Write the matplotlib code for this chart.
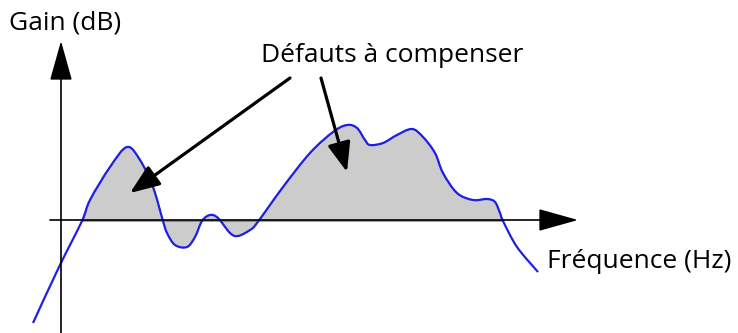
import matplotlib
matplotlib.use("Agg")
import matplotlib.pyplot as plt
import numpy as np
from matplotlib.patches import FancyArrowPatch, PathPatch
from matplotlib.path import Path

# Curve traced from the schematic (frequency axis origin at the vertical axis, gain 0 on the horizontal axis)
freq = [-28, -2, 21, 29, 49, 66, 79, 92, 102, 106, 114, 126, 134, 141, 149, 157, 169, 177, 189,
        196, 222, 249, 272, 286, 296, 304, 309, 322, 336, 351, 362, 374, 382, 396, 412, 426, 434,
        439, 442, 456, 477]
gain = [-102, -46, 0, 21, 54, 74, 61, 34, 0, -12, -24, -26, -16, 0, 6, 3, -12, -15, -9,
        -2, 34, 68, 89, 96, 93, 81, 76, 78, 86, 92, 84, 68, 48, 28, 21, 22, 19,
        8, 0, -26, -51]


def smooth_path(px, py, close_to_zero=False):
    """Catmull-Rom through the points, drawn as cubic bezier segments"""
    pts = np.column_stack([px, py]).astype(float)
    verts = [pts[0]]
    codes = [Path.MOVETO]
    n = len(pts)
    for i in range(n - 1):
        p0 = pts[max(i - 1, 0)]
        p1 = pts[i]
        p2 = pts[i + 1]
        p3 = pts[min(i + 2, n - 1)]
        verts += [p1 + (p2 - p0) / 6, p2 - (p3 - p1) / 6, p2]
        codes += [Path.CURVE4] * 3
    if close_to_zero:
        verts += [(pts[-1][0], 0), (pts[0][0], 0), pts[0]]
        codes += [Path.LINETO, Path.LINETO, Path.CLOSEPOLY]
    return Path(verts, codes)


fig = plt.figure(figsize=(7.38, 3.33), dpi=100)
ax = fig.add_axes([0, 0, 1, 1])
ax.set_xlim(-61, 677)
ax.set_ylim(-112, 221)
ax.axis("off")

# shaded defects between curve and 0 dB line
i0, i1 = freq.index(21), freq.index(442)
ax.add_patch(PathPatch(smooth_path(freq[i0:i1 + 1], gain[i0:i1 + 1], True),
                       facecolor="#cccccc", edgecolor="#555555", linewidth=0.8, zorder=1))
ax.add_patch(PathPatch(smooth_path(freq, gain), facecolor="none", edgecolor="#1f1fe6",
                       linewidth=1.6, zorder=3))


def arrow(x0, y0, x1, y1, lw, hl, hw):
    a = FancyArrowPatch((x0, y0), (x1, y1), arrowstyle=f"-|>,head_length={hl},head_width={hw}",
                        mutation_scale=10, color="black", linewidth=lw, shrinkA=0, shrinkB=0, zorder=4)
    ax.add_patch(a)

# axes
arrow(-11, 1, 517, 1, 1.2, 2.5, 0.7)
arrow(0, -112, 0, 180, 1.2, 2.5, 0.7)

# pointers
arrow(229, 143, 69, 28, 2.3, 1.8, 0.7)
arrow(260, 143, 286, 49, 2.3, 1.8, 0.7)

font = "Open Sans"
ax.text(-52, 191, "Gain (dB)", fontsize=19, family=font, va="baseline", ha="left")
ax.text(200, 159, "Défauts à compenser", fontsize=19, family=font, va="baseline", ha="left")
ax.text(486, -47, "Fréquence (Hz)", fontsize=19, family=font, va="baseline", ha="left")

fig.savefig("out.png", dpi=100)
